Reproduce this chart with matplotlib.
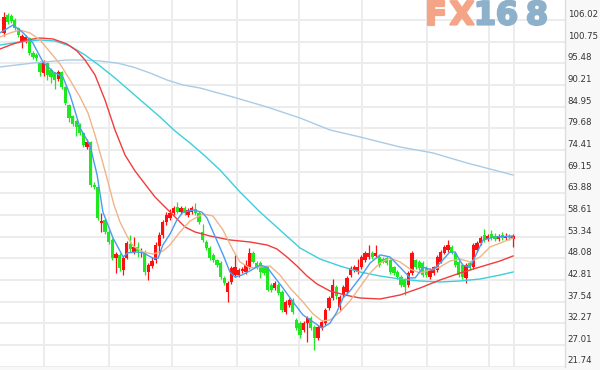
import matplotlib
matplotlib.use("Agg")
import matplotlib.pyplot as plt
import matplotlib.patheffects as pe
import numpy as np

# ---------------- data ----------------
opens = [102.9,107.2,107.0,106.0,104.1,100.9,101.0,101.6,98.0,97.6,
         95.6,93.1,95.6,93.9,93.1,91.7,93.4,89.7,85.3,82.6,
         81.5,80.5,78.5,75.1,76.4,66.0,65.4,56.6,57.4,54.5,
         52.5,48.1,48.9,45.2,48.1,51.5,49.6,50.8,49.3,49.3,
         44.7,46.2,47.6,51.0,53.7,56.9,57.9,59.1,60.5,59.3,
         60.3,58.6,59.3,60.0,59.1,54.5,52.0,50.6,48.9,47.6,
         46.9,43.3,39.9,42.3,44.0,44.0,45.0,44.7,45.9,49.4,
         46.9,46.9,45.9,45.9,41.6,40.8,41.6,39.9,35.0,36.7,
         37.9,33.1,32.3,30.6,32.3,33.5,31.4,28.7,31.1,32.3,
         36.0,38.4,41.1,36.2,39.1,39.9,44.0,45.2,44.7,45.9,
         47.6,48.4,49.4,48.6,48.4,48.0,48.2,47.6,45.9,44.7,
         43.5,42.8,41.6,44.5,47.6,47.2,46.9,45.7,43.5,44.5,
         45.2,47.2,49.4,50.1,50.8,49.4,47.2,46.4,43.3,46.9,
         45.9,50.1,51.8,53.7,52.8,54.0,53.6,52.8,53.7,52.9,
         53.3,52.8]
highs = [107.9,107.8,107.4,106.4,104.4,102.6,102.3,102.0,98.4,98.0,
         96.1,96.3,95.9,94.3,93.4,93.9,93.7,90.0,85.6,83.0,
         81.8,80.9,78.8,77.1,76.7,66.5,65.8,59.0,57.8,55.0,
         53.0,49.5,49.3,48.6,52.3,53.7,53.3,52.0,50.5,50.2,
         47.0,48.5,52.0,54.5,57.5,59.3,60.0,60.8,61.7,60.8,
         60.8,60.3,60.9,61.5,59.5,56.5,52.5,51.0,49.3,48.0,
         47.3,43.7,42.5,46.2,48.9,45.7,46.0,47.6,50.6,49.8,
         47.3,47.3,46.3,46.3,42.0,42.5,42.0,40.3,37.9,38.4,
         38.4,33.5,32.8,32.8,34.0,34.0,31.8,31.8,33.0,36.0,
         38.9,43.0,41.5,39.1,41.5,43.7,46.2,46.4,48.0,48.9,
         49.8,51.3,49.8,51.3,48.8,48.4,48.6,48.0,46.3,45.1,
         43.9,43.2,44.9,49.8,48.0,47.6,47.3,46.1,45.6,46.3,
         48.8,50.0,51.3,52.5,51.3,49.8,47.6,46.8,46.8,47.3,
         51.8,52.3,53.5,55.2,54.0,54.9,54.2,54.0,54.4,54.2,
         53.9,54.0]
lows = [102.2,105.0,105.3,103.6,101.8,99.2,100.4,97.6,96.6,96.0,
        92.3,92.5,91.5,90.8,89.3,91.2,89.2,85.3,81.2,80.2,
        77.8,78.0,75.1,74.6,65.5,64.8,57.4,54.5,54.0,51.5,
        47.6,44.5,45.0,44.0,47.8,49.5,49.0,48.5,48.5,44.0,
        42.8,45.8,47.0,49.0,53.0,56.2,57.4,58.6,59.0,58.8,
        58.6,58.1,58.8,58.6,56.4,52.0,50.0,47.6,47.2,45.9,
        43.0,41.6,37.4,41.8,43.5,43.5,44.5,44.3,45.5,46.8,
        45.5,43.3,44.0,40.0,39.9,40.4,39.2,35.0,34.5,36.2,
        34.5,30.6,28.7,30.1,27.7,30.6,25.8,28.2,30.6,31.8,
        35.5,38.0,38.2,35.5,38.7,39.5,43.5,44.7,44.2,45.5,
        47.2,48.0,48.0,48.2,46.0,46.8,46.4,44.3,44.0,43.0,
        41.1,39.1,41.1,44.0,45.5,45.2,43.5,43.5,43.0,44.0,
        44.7,46.8,49.0,49.6,49.0,46.0,43.5,43.0,42.1,45.2,
        45.5,49.6,51.3,52.0,52.3,52.5,52.3,52.2,52.5,52.5,
        52.4,50.8]
closes = [106.7,105.5,105.8,104.1,102.3,102.1,101.9,98.0,97.0,96.8,
          93.4,95.8,92.6,92.2,91.4,93.4,89.7,85.8,82.2,80.8,
          80.0,78.5,75.6,76.4,65.9,65.4,57.9,57.1,54.5,52.0,
          48.1,49.0,45.7,48.1,51.8,50.3,50.8,49.8,49.6,44.7,
          46.4,47.4,51.3,53.7,56.9,58.6,59.1,60.3,59.3,60.3,
          59.1,59.8,60.3,59.1,56.9,52.5,50.6,48.1,47.6,46.4,
          43.5,42.1,42.1,45.7,45.9,45.2,45.5,46.4,49.4,47.2,
          45.9,44.7,44.5,40.4,40.4,42.1,39.6,35.5,37.4,37.9,
          35.0,31.1,29.4,32.3,33.5,31.1,28.7,31.4,32.6,35.5,
          38.4,41.5,38.9,38.7,41.1,43.3,45.7,45.9,45.9,48.4,
          49.4,49.4,48.4,49.4,46.4,47.2,46.9,44.7,44.5,43.5,
          41.6,41.1,44.5,49.4,45.9,45.7,44.0,44.0,45.2,45.9,
          48.4,49.6,50.8,51.3,49.4,46.4,44.0,43.5,46.4,45.7,
          51.3,51.8,53.0,52.5,53.5,53.0,52.8,53.5,52.9,53.6,
          52.9,53.5]

# moving-average lines (bar position, value)
ma5_pos = [-1.1,2.5,5.3,8.0,10.8,13.6,16.3,18.3,21.1,23.8,25.8,27.4,30.2,33.0,34.3,
           36.8,38.5,41.3,42.7,44.0,46.0,47.9,49.6,52.4,54.8,56.2,57.9,60.7,62.6,64.0,
           65.9,68.1,70.9,72.9,74.5,77.3,80.1,82.8,85.6,88.1,90.3,92.2,93.9,95.8,98.6,
           101.4,104.2,106.9,109.7,112.5,113.9,116.1,118.8,120.8,123.5,124.9,127.1,129.1,
           131.0,132.7,135.5,141.0]
ma5_val = [102.9,104.8,102.9,100.4,95.8,93.4,92.2,87.8,79.7,75.6,68.3,59.3,53.0,48.4,49.4,
           49.6,49.4,48.1,48.1,51.3,54.0,57.4,59.3,59.8,59.3,57.9,54.5,48.9,44.7,43.5,
           44.0,45.0,46.4,45.9,44.0,40.8,37.4,34.3,32.6,31.1,32.3,35.0,38.4,40.1,43.3,
           46.9,48.9,48.4,45.9,43.3,43.3,45.9,45.2,46.9,49.6,49.6,46.4,45.9,
           49.4,52.5,53.2,53.5]
ma10_pos = [-1.11,1.66,4.43,7.20,9.97,12.74,15.51,18.28,21.05,23.27,25.21,27.15,28.81,
            30.47,32.13,34.07,35.73,38.50,41.27,44.04,45.98,48.75,51.52,55.12,57.89,60.66,
            63.43,65.37,68.14,70.91,73.68,76.45,79.22,82.83,85.60,88.09,90.30,93.07,95.84,
            98.61,101.39,104.16,106.93,109.70,112.47,115.24,118.01,120.78,123.55,126.32,
            129.09,131.86,134.63,138.23,141.0]
ma10_val = [101.89,102.86,103.59,102.86,101.16,98.24,95.32,91.43,87.29,83.40,78.05,71.97,
            66.62,61.03,56.89,53.49,51.06,49.60,49.11,49.84,51.30,54.46,57.14,58.84,58.35,
            54.95,50.08,47.17,45.71,45.95,46.19,44.0,40.84,37.44,34.52,32.82,33.06,35.0,
            37.68,41.09,44.49,46.92,48.14,47.17,45.46,44.49,45.22,45.95,47.41,47.89,47.17,
            48.38,50.81,52.03,53.0]
ma30_pos = [-1.11,2.49,6.37,9.97,13.57,17.45,20.22,22.44,25.21,27.98,30.75,33.52,36.29,
            39.06,41.83,44.60,47.37,50.14,52.91,57.06,62.60,68.14,72.85,75.62,78.39,81.16,
            83.93,86.70,90.30,94.46,98.61,104.16,109.70,115.24,120.78,126.32,131.86,137.40,141.0]
ma30_val = [98.97,100.18,101.16,101.64,101.40,100.18,98.48,96.29,92.64,86.56,79.27,73.19,
            69.30,66.13,62.97,60.54,58.11,55.68,54.46,53.49,52.52,52.03,51.30,50.33,48.38,
            46.19,43.76,41.82,40.11,39.14,38.41,38.17,39.14,40.84,42.79,44.49,45.95,47.41,48.63]
ma60_pos = [-1.11,4.43,9.97,14.13,18.28,22.44,26.59,30.75,34.90,39.06,43.21,47.37,51.52,
            55.68,59.83,65.37,70.91,76.45,82.0,87.53,93.07,98.61,104.16,109.70,115.24,
            120.78,126.32,131.86,137.40,141.0]
ma60_val = [99.94,100.67,101.16,100.91,99.70,97.51,94.83,91.91,88.75,85.59,82.43,79.02,
            76.11,72.95,69.54,64.19,59.33,54.95,50.57,47.89,46.19,44.73,43.76,43.03,42.55,
            42.30,42.55,43.03,44.0,44.73]
ma120_pos = [-1.11,8.03,17.45,21.88,26.59,31.30,35.73,40.44,45.15,49.58,54.29,63.43,72.85,
             82.0,90.30,98.61,109.70,118.84,128.25,141.0]
ma120_val = [94.59,95.56,96.29,96.29,96.05,95.56,94.59,93.13,91.43,90.21,89.48,87.29,84.86,
             82.19,79.27,77.57,75.13,73.68,71.24,68.32]

ytick_labels = ["106.02","100.75","95.48","90.21","84.95","79.68","74.41","69.15","63.88",
                "58.61","53.34","48.08","42.81","37.54","32.27","27.01","21.74"]
vgrid_pos = [11.1, 29.1, 46.5, 64.5, 81.7, 99.2, 117.2, 134.3, 141.3]

# ---------------- figure ----------------
fig = plt.figure(figsize=(6.0, 3.7), dpi=100)
fig.patch.set_facecolor("#f8f8f8")
ax = fig.add_axes([0, 3/370, 565/600, 367/370])
ax.set_facecolor("white")

ytick_vals = [float(s) for s in ytick_labels]
ax.set_ylim(21.63, 110.88)
ax.set_xlim(-1.11, 155.4)

for v in ytick_vals:
    ax.axhline(v, color="#ececec", lw=1.4, zorder=0)
for xv in vgrid_pos:
    ax.axvline(xv, color="#ececec", lw=1.4, zorder=0)

o = np.array(opens); h = np.array(highs); l = np.array(lows); c = np.array(closes)
idx = np.arange(len(o))
up = c >= o
col_up, col_dn = "#ff1010", "#1ee81e"
colors = np.where(up, col_up, col_dn)
ax.vlines(idx, l, h, colors=colors, lw=0.9, zorder=2)
body_bot = np.minimum(o, c)
body_h = np.maximum(np.abs(c - o), 0.4)
ax.bar(idx, body_h, bottom=body_bot, width=0.9, color=colors, linewidth=0, zorder=3)

ax.plot(ma120_pos, ma120_val, color="#a9cce6", lw=1.0, zorder=4)
ax.plot(ma60_pos, ma60_val, color="#3ccfda", lw=1.0, zorder=4)
ax.plot(ma30_pos, ma30_val, color="#f03c3c", lw=1.0, zorder=4)
ax.plot(ma10_pos, ma10_val, color="#f0b48a", lw=1.0, zorder=5)
ax.plot(ma5_pos, ma5_val, color="#4a9cf2", lw=1.0, zorder=6)

ax.set_xticks([]); ax.set_yticks([])
for s in ["top", "left", "bottom"]:
    ax.spines[s].set_visible(False)
ax.spines["right"].set_color("#dddddd")
ax.spines["right"].set_linewidth(1.0)

for v, s in zip(ytick_vals, ytick_labels):
    ax.annotate(s, xy=(1, v), xycoords=("axes fraction", "data"),
                xytext=(2, 2.2), textcoords="offset points",
                ha="left", va="baseline", fontsize=6.2, color="#333333",
                annotation_clip=False)

# watermark logo
logo = [("F", 436, "#f4a487"), ("X", 462, "#f4a487"),
        ("1", 485, "#8db1ca"), ("6", 507, "#8db1ca"), ("8", 537, "#8db1ca")]
for ch, px, colr in logo:
    fig.text(px/600, 1 - 16/370, ch, ha="center", va="center", fontsize=23,
             fontweight="bold", color=colr, family="DejaVu Sans", zorder=10,
             path_effects=[pe.withStroke(linewidth=1.6, foreground=colr)])

fig.savefig("out.png", dpi=100, facecolor=fig.get_facecolor())
